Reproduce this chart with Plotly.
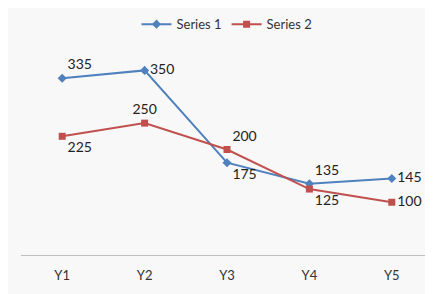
import plotly.graph_objects as go

categories = ["Y1", "Y2", "Y3", "Y4", "Y5"]
series1 = [335, 350, 175, 135, 145]
series2 = [225, 250, 200, 125, 100]

pos1 = ["top right", "middle right", "bottom right", "top right", "middle right"]
pos2 = ["bottom right", "top center", "top right", "bottom right", "middle right"]

fig = go.Figure()
fig.add_trace(go.Scatter(
    x=categories, y=series1, name="Series 1", mode="lines+markers+text",
    line=dict(color="#4F81BD", width=2),
    marker=dict(symbol="diamond", size=7, color="#4F81BD"),
    text=[str(v) for v in series1], textposition=pos1, cliponaxis=False,
    textfont=dict(family="Lato", size=14, color="#222222"),
))
fig.add_trace(go.Scatter(
    x=categories, y=series2, name="Series 2", mode="lines+markers+text",
    line=dict(color="#C0504D", width=2),
    marker=dict(symbol="square", size=7, color="#C0504D"),
    text=[str(v) for v in series2], textposition=pos2, cliponaxis=False,
    textfont=dict(family="Lato", size=14, color="#222222"),
))

fig.update_layout(
    width=425, height=286,
    margin=dict(l=13, r=0, t=36, b=39),
    paper_bgcolor="#f8f8f8", plot_bgcolor="#f8f8f8",
    font=dict(family="Lato", size=13, color="#333333"),
    showlegend=True,
    legend=dict(orientation="h", x=0.5, xanchor="center", y=1.165, yanchor="top",
                font=dict(size=13, color="#333333"),
                bgcolor="rgba(0,0,0,0)"),
    xaxis=dict(type="category", range=[-0.5, 4.5], showgrid=False, showline=True,
               linecolor="#bfbfbf", linewidth=1, ticks="outside", ticklen=8,
               tickcolor="rgba(0,0,0,0)", zeroline=False,
               tickfont=dict(size=13, color="#333333")),
    yaxis=dict(range=[0, 400], showgrid=False, showticklabels=False,
               zeroline=False, showline=False),
)

fig.write_html("out.html")
